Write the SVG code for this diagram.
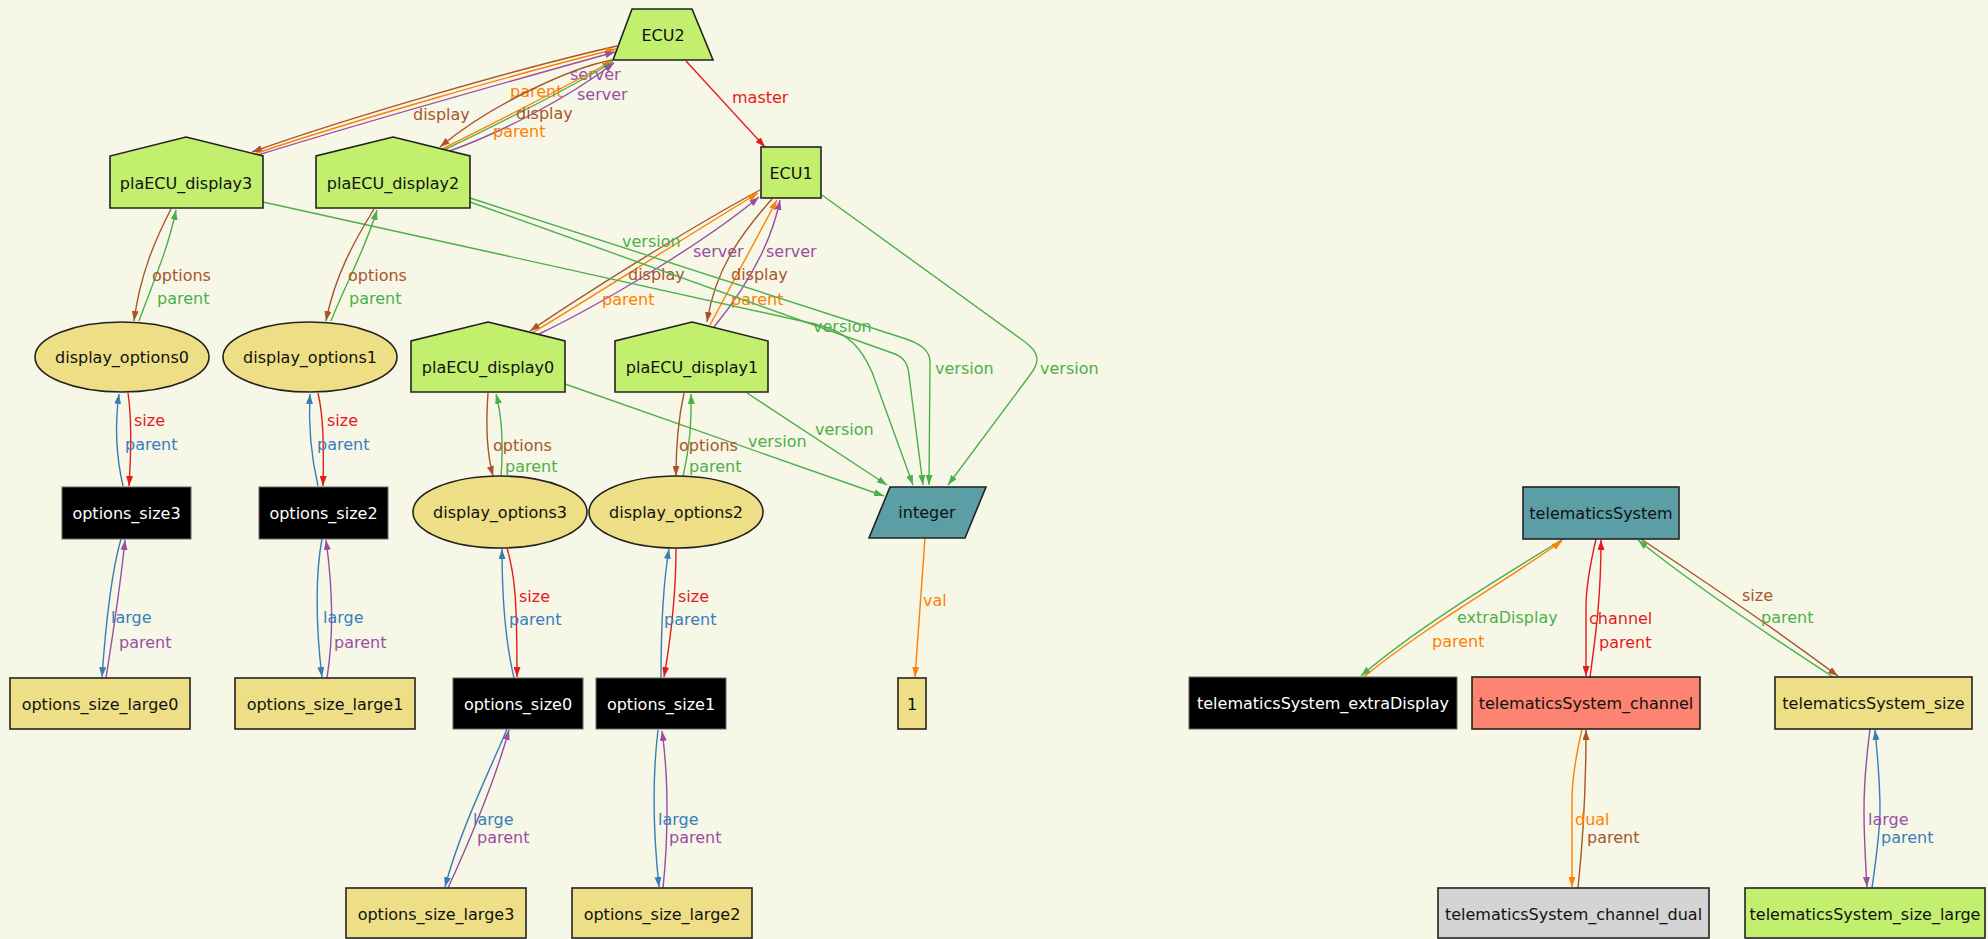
<svg xmlns="http://www.w3.org/2000/svg" width="1988" height="939" viewBox="0 0 1988 939">
<style>
.bg{fill:#f7f7e8}
.s{stroke:#222;stroke-width:1.6}
.gr{fill:#c2ef6e}
.kh{fill:#eedf86}
.te{fill:#5b9ea6}
.bk{fill:#000;stroke:#666;stroke-width:1}
.sa{fill:#fd8372}
.gy{fill:#d4d4d4}
text{font-family:"DejaVu Sans","Liberation Sans",sans-serif;font-size:16px}
.nl{text-anchor:middle;fill:#111}
.wl{text-anchor:middle;fill:#fff}
.e{fill:none;stroke-width:1.4}
.cB{stroke:#a65628}.cO{stroke:#ff7f00}.cP{stroke:#984ea3}.cG{stroke:#4daf4a}.cR{stroke:#e41a1c}.cU{stroke:#377eb8}
.tB{fill:#a65628}.tO{fill:#ff7f00}.tP{fill:#984ea3}.tG{fill:#4daf4a}.tR{fill:#e41a1c}.tU{fill:#377eb8}
</style>
<defs>
<marker id="aB" viewBox="0 0 10 7" refX="10" refY="3.5" markerWidth="10" markerHeight="7" markerUnits="userSpaceOnUse" orient="auto"><path d="M0,0 L10,3.5 L0,7 z" fill="#a65628"/></marker>
<marker id="aO" viewBox="0 0 10 7" refX="10" refY="3.5" markerWidth="10" markerHeight="7" markerUnits="userSpaceOnUse" orient="auto"><path d="M0,0 L10,3.5 L0,7 z" fill="#ff7f00"/></marker>
<marker id="aP" viewBox="0 0 10 7" refX="10" refY="3.5" markerWidth="10" markerHeight="7" markerUnits="userSpaceOnUse" orient="auto"><path d="M0,0 L10,3.5 L0,7 z" fill="#984ea3"/></marker>
<marker id="aG" viewBox="0 0 10 7" refX="10" refY="3.5" markerWidth="10" markerHeight="7" markerUnits="userSpaceOnUse" orient="auto"><path d="M0,0 L10,3.5 L0,7 z" fill="#4daf4a"/></marker>
<marker id="aR" viewBox="0 0 10 7" refX="10" refY="3.5" markerWidth="10" markerHeight="7" markerUnits="userSpaceOnUse" orient="auto"><path d="M0,0 L10,3.5 L0,7 z" fill="#e41a1c"/></marker>
<marker id="aU" viewBox="0 0 10 7" refX="10" refY="3.5" markerWidth="10" markerHeight="7" markerUnits="userSpaceOnUse" orient="auto"><path d="M0,0 L10,3.5 L0,7 z" fill="#377eb8"/></marker>
</defs>
<rect class="bg" x="0" y="0" width="1988" height="939"/>

<g id="connectors">
<!-- ECU2 -> ECU1 -->
<path class="e cR" d="M686,61 L765,147" marker-end="url(#aR)"/>
<text class="tR" x="732" y="103">master</text>
<!-- display3 <-> ECU2 -->
<path class="e cB" d="M617,46 C520,68 350,117 252,152" marker-end="url(#aB)"/>
<path class="e cO" d="M254,154 C352,121 522,72 616,49" marker-end="url(#aO)"/>
<path class="e cP" d="M258,155 C355,125 525,77 615,52" marker-end="url(#aP)"/>
<text class="tB" x="413" y="120">display</text>
<text class="tO" x="510" y="97">parent</text>
<text class="tP" x="570" y="80">server</text>
<!-- display2 <-> ECU2 -->
<path class="e cB" d="M612,60 C570,68 490,105 440,147" marker-end="url(#aB)"/>
<path class="e cO" d="M442,149 C490,125 560,90 612,61" marker-end="url(#aO)"/>
<path class="e cG" d="M444,150 C492,127 562,92 613,62" marker-end="url(#aG)"/>
<path class="e cP" d="M447,152 C500,133 565,100 614,63" marker-end="url(#aP)"/>
<text class="tP" x="577" y="100">server</text>
<text class="tB" x="516" y="119">display</text>
<text class="tO" x="493" y="137">parent</text>
<!-- display0 <-> ECU1 -->
<path class="e cB" d="M760,190 C700,222 590,290 530,331" marker-end="url(#aB)"/>
<path class="e cO" d="M532,333 C600,292 700,228 758,193" marker-end="url(#aO)"/>
<path class="e cP" d="M537,335 C610,300 710,238 759,197" marker-end="url(#aP)"/>
<text class="tP" x="693" y="257">server</text>
<text class="tB" x="628" y="280">display</text>
<text class="tO" x="602" y="305">parent</text>
<!-- display1 <-> ECU1 -->
<path class="e cB" d="M772,199 C740,235 715,270 707,322" marker-end="url(#aB)"/>
<path class="e cO" d="M710,325 L777,200" marker-end="url(#aO)"/>
<path class="e cP" d="M714,327 C740,295 770,250 780,200" marker-end="url(#aP)"/>
<text class="tP" x="766" y="257">server</text>
<text class="tB" x="731" y="280">display</text>
<text class="tO" x="731" y="305">parent</text>
<!-- version edges -->
<path class="e cG" d="M263,202 L815,324 C850,332 862,350 872,372 L913,485" marker-end="url(#aG)"/>
<path class="e cG" d="M470,198 L900,337 C920,343 930,350 930,362 L929,485" marker-end="url(#aG)"/>
<path class="e cG" d="M470,202 L895,354 C905,358 908,365 909,375 L923,485" marker-end="url(#aG)"/>
<path class="e cG" d="M822,195 L1025,342 C1040,353 1040,362 1030,375 L948,485" marker-end="url(#aG)"/>
<path class="e cG" d="M747,393 L887,485" marker-end="url(#aG)"/>
<path class="e cG" d="M565,384 L884,496" marker-end="url(#aG)"/>
<text class="tG" x="622" y="247">version</text>
<text class="tG" x="813" y="332">version</text>
<text class="tG" x="935" y="374">version</text>
<text class="tG" x="1040" y="374">version</text>
<text class="tG" x="815" y="435">version</text>
<text class="tG" x="748" y="447">version</text>
<!-- display3 <-> display_options0 -->
<path class="e cB" d="M171,209 C155,240 140,275 134,321" marker-end="url(#aB)"/>
<path class="e cG" d="M139,321 C150,290 168,250 176,210" marker-end="url(#aG)"/>
<text class="tB" x="152" y="281">options</text>
<text class="tG" x="157" y="304">parent</text>
<!-- display2 <-> display_options1 -->
<path class="e cB" d="M374,209 C355,240 335,275 326,321" marker-end="url(#aB)"/>
<path class="e cG" d="M331,321 C345,285 365,250 377,210" marker-end="url(#aG)"/>
<text class="tB" x="348" y="281">options</text>
<text class="tG" x="349" y="304">parent</text>
<!-- display_options0 <-> options_size3 -->
<path class="e cR" d="M128,393 C132,420 131,455 129,486" marker-end="url(#aR)"/>
<path class="e cU" d="M123,486 C117,460 114,430 119,394" marker-end="url(#aU)"/>
<text class="tR" x="134" y="426">size</text>
<text class="tU" x="125" y="450">parent</text>
<!-- display_options1 <-> options_size2 -->
<path class="e cR" d="M318,393 C323,415 324,440 323,486" marker-end="url(#aR)"/>
<path class="e cU" d="M318,486 C312,460 308,430 310,394" marker-end="url(#aU)"/>
<text class="tR" x="327" y="426">size</text>
<text class="tU" x="317" y="450">parent</text>
<!-- options_size3 <-> options_size_large0 -->
<path class="e cU" d="M121,539 C112,570 106,620 102,677" marker-end="url(#aU)"/>
<path class="e cP" d="M106,678 C112,640 120,590 125,540" marker-end="url(#aP)"/>
<text class="tU" x="111" y="623">large</text>
<text class="tP" x="119" y="648">parent</text>
<!-- options_size2 <-> options_size_large1 -->
<path class="e cU" d="M322,539 C316,570 315,620 322,677" marker-end="url(#aU)"/>
<path class="e cP" d="M327,678 C333,640 333,590 326,540" marker-end="url(#aP)"/>
<text class="tU" x="323" y="623">large</text>
<text class="tP" x="334" y="648">parent</text>
<!-- display0 <-> display_options3 -->
<path class="e cB" d="M488,393 C486,420 486,450 493,476" marker-end="url(#aB)"/>
<path class="e cG" d="M501,477 C503,450 503,420 496,394" marker-end="url(#aG)"/>
<text class="tB" x="493" y="451">options</text>
<text class="tG" x="505" y="472">parent</text>
<!-- display1 <-> display_options2 -->
<path class="e cB" d="M684,393 C678,420 676,450 676,476" marker-end="url(#aB)"/>
<path class="e cG" d="M683,477 C689,450 692,420 691,394" marker-end="url(#aG)"/>
<text class="tB" x="679" y="451">options</text>
<text class="tG" x="689" y="472">parent</text>
<!-- display_options3 <-> options_size0 -->
<path class="e cR" d="M507,548 C515,575 517,600 517,677" marker-end="url(#aR)"/>
<path class="e cU" d="M514,678 C505,640 502,600 502,549" marker-end="url(#aU)"/>
<text class="tR" x="519" y="602">size</text>
<text class="tU" x="509" y="625">parent</text>
<!-- display_options2 <-> options_size1 -->
<path class="e cR" d="M676,548 C676,580 674,620 664,677" marker-end="url(#aR)"/>
<path class="e cU" d="M661,678 C661,640 662,590 669,549" marker-end="url(#aU)"/>
<text class="tR" x="678" y="602">size</text>
<text class="tU" x="664" y="625">parent</text>
<!-- options_size0 <-> options_size_large3 -->
<path class="e cU" d="M507,729 C490,770 460,830 445,887" marker-end="url(#aU)"/>
<path class="e cP" d="M448,888 C470,840 495,780 509,730" marker-end="url(#aP)"/>
<text class="tU" x="473" y="825">large</text>
<text class="tP" x="477" y="843">parent</text>
<!-- options_size1 <-> options_size_large2 -->
<path class="e cU" d="M658,730 C652,780 654,840 659,887" marker-end="url(#aU)"/>
<path class="e cP" d="M663,888 C668,840 669,780 662,731" marker-end="url(#aP)"/>
<text class="tU" x="658" y="825">large</text>
<text class="tP" x="669" y="843">parent</text>
<!-- integer -> 1 -->
<path class="e cO" d="M925,538 L915,677" marker-end="url(#aO)"/>
<text class="tO" x="923" y="606">val</text>
<!-- telematicsSystem edges -->
<path class="e cG" d="M1563,539 C1510,572 1420,625 1361,676" marker-end="url(#aG)"/>
<path class="e cO" d="M1364,677 C1420,630 1510,578 1562,541" marker-end="url(#aO)"/>
<text class="tG" x="1457" y="623">extraDisplay</text>
<text class="tO" x="1432" y="647">parent</text>
<path class="e cR" d="M1596,539 C1590,565 1586,590 1586,607 L1586,676" marker-end="url(#aR)"/>
<path class="e cR" d="M1590,677 C1595,640 1601,600 1601,540" marker-end="url(#aR)"/>
<text class="tR" x="1589" y="624">channel</text>
<text class="tR" x="1599" y="648">parent</text>
<path class="e cB" d="M1641,539 C1700,578 1780,633 1838,676" marker-end="url(#aB)"/>
<path class="e cG" d="M1833,677 C1770,636 1690,582 1638,540" marker-end="url(#aG)"/>
<text class="tB" x="1742" y="601">size</text>
<text class="tG" x="1761" y="623">parent</text>
<path class="e cO" d="M1582,729 C1575,760 1572,780 1572,800 L1572,887" marker-end="url(#aO)"/>
<path class="e cB" d="M1578,888 C1582,850 1586,800 1586,730" marker-end="url(#aB)"/>
<text class="tO" x="1575" y="825">dual</text>
<text class="tB" x="1587" y="843">parent</text>
<path class="e cP" d="M1870,729 C1866,760 1864,790 1864,810 C1864,840 1866,870 1867,887" marker-end="url(#aP)"/>
<path class="e cU" d="M1872,888 C1876,860 1880,830 1880,810 C1880,780 1877,750 1875,730" marker-end="url(#aU)"/>
<text class="tP" x="1868" y="825">large</text>
<text class="tU" x="1881" y="843">parent</text>
</g>

<g id="ECU2"><polygon class="s gr" points="632,9 692,9 713,60 613,60"/><text class="nl" x="663" y="41">ECU2</text></g>
<g id="ECU1"><rect class="s gr" x="761" y="147" width="60" height="51"/><text class="nl" x="791" y="179">ECU1</text></g>
<g id="plaECU_display3"><polygon class="s gr" points="186,137 263,156 263,208 110,208 110,156"/><text class="nl" x="186" y="189">plaECU_display3</text></g>
<g id="plaECU_display2"><polygon class="s gr" points="393,137 470,156 470,208 316,208 316,156"/><text class="nl" x="393" y="189">plaECU_display2</text></g>
<g id="plaECU_display0"><polygon class="s gr" points="488,322 565,341 565,392 411,392 411,341"/><text class="nl" x="488" y="373">plaECU_display0</text></g>
<g id="plaECU_display1"><polygon class="s gr" points="692,322 768,341 768,392 615,392 615,341"/><text class="nl" x="692" y="373">plaECU_display1</text></g>
<g id="display_options0"><ellipse class="s kh" cx="122" cy="357" rx="87" ry="35"/><text class="nl" x="122" y="363">display_options0</text></g>
<g id="display_options1"><ellipse class="s kh" cx="310" cy="357" rx="87" ry="35"/><text class="nl" x="310" y="363">display_options1</text></g>
<g id="display_options3"><ellipse class="s kh" cx="500" cy="512" rx="87" ry="36"/><text class="nl" x="500" y="518">display_options3</text></g>
<g id="display_options2"><ellipse class="s kh" cx="676" cy="512" rx="87" ry="36"/><text class="nl" x="676" y="518">display_options2</text></g>
<g id="options_size3"><rect class="bk" x="62" y="487" width="129" height="52"/><text class="wl" x="126.5" y="519">options_size3</text></g>
<g id="options_size2"><rect class="bk" x="259" y="487" width="129" height="52"/><text class="wl" x="323.5" y="519">options_size2</text></g>
<g id="options_size0"><rect class="bk" x="453" y="678" width="130" height="51"/><text class="wl" x="518" y="710">options_size0</text></g>
<g id="options_size1"><rect class="bk" x="596" y="678" width="130" height="51"/><text class="wl" x="661" y="710">options_size1</text></g>
<g id="options_size_large0"><rect class="s kh" x="10" y="678" width="180" height="51"/><text class="nl" x="100" y="710">options_size_large0</text></g>
<g id="options_size_large1"><rect class="s kh" x="235" y="678" width="180" height="51"/><text class="nl" x="325" y="710">options_size_large1</text></g>
<g id="options_size_large3"><rect class="s kh" x="346" y="888" width="180" height="50"/><text class="nl" x="436" y="920">options_size_large3</text></g>
<g id="options_size_large2"><rect class="s kh" x="572" y="888" width="180" height="50"/><text class="nl" x="662" y="920">options_size_large2</text></g>
<g id="integer"><polygon class="s te" points="890,487 986,487 965,538 869,538"/><text class="nl" x="927" y="518">integer</text></g>
<g id="n1"><rect class="s kh" x="898" y="678" width="28" height="51"/><text class="nl" x="912" y="710">1</text></g>
<g id="telematicsSystem"><rect class="s te" x="1523" y="487" width="156" height="52"/><text class="nl" x="1601" y="519">telematicsSystem</text></g>
<g id="telematicsSystem_extraDisplay"><rect class="bk" x="1189" y="677" width="268" height="52"/><text class="wl" x="1323" y="709">telematicsSystem_extraDisplay</text></g>
<g id="telematicsSystem_channel"><rect class="s sa" x="1472" y="677" width="228" height="52"/><text class="nl" x="1586" y="709">telematicsSystem_channel</text></g>
<g id="telematicsSystem_size"><rect class="s kh" x="1775" y="677" width="197" height="52"/><text class="nl" x="1873.5" y="709">telematicsSystem_size</text></g>
<g id="telematicsSystem_channel_dual"><rect class="s gy" x="1438" y="888" width="271" height="50"/><text class="nl" x="1573.5" y="920">telematicsSystem_channel_dual</text></g>
<g id="telematicsSystem_size_large"><rect class="s gr" x="1745" y="888" width="240" height="50"/><text class="nl" x="1865" y="920">telematicsSystem_size_large</text></g>
</svg>
